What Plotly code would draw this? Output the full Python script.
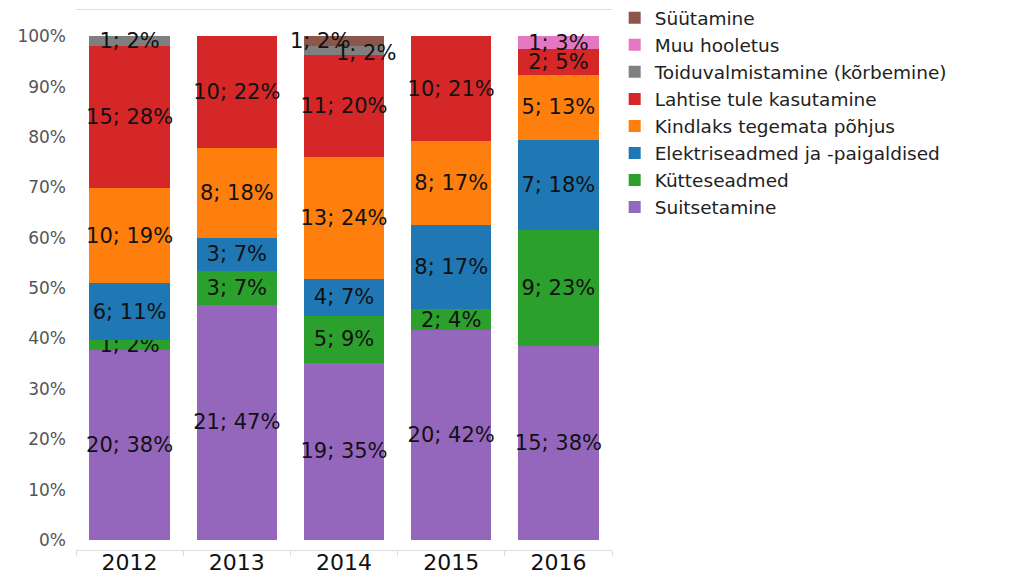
import plotly.graph_objects as go

years = ["2012", "2013", "2014", "2015", "2016"]

# counts per cause (stack order bottom -> top)
suitsetamine = [20, 21, 19, 20, 15]
kutteseadmed = [1, 3, 5, 2, 9]
elektriseadmed = [6, 3, 4, 8, 7]
kindlaks_tegemata = [10, 8, 13, 8, 5]
lahtise_tule = [15, 10, 11, 10, 2]
toiduvalmistamine = [1, 0, 1, 0, 0]
muu_hooletus = [0, 0, 0, 0, 1]
suutamine = [0, 0, 1, 0, 0]

series = [
    ("Suitsetamine", suitsetamine, "#9467bd"),
    ("Kütteseadmed", kutteseadmed, "#2ca02c"),
    ("Elektriseadmed ja -paigaldised", elektriseadmed, "#1f77b4"),
    ("Kindlaks tegemata põhjus", kindlaks_tegemata, "#ff7f0e"),
    ("Lahtise tule kasutamine", lahtise_tule, "#d62728"),
    ("Toiduvalmistamine (kõrbemine)", toiduvalmistamine, "#7f7f7f"),
    ("Muu hooletus", muu_hooletus, "#e377c2"),
    ("Süütamine", suutamine, "#8c564b"),
]

# labels that are nudged sideways in the reference (year, series name, x shift, y shift)
nudged = [
    ("2014", "Süütamine", -24, 0),
    ("2014", "Toiduvalmistamine (kõrbemine)", 22, -3),
]

FONT = "DejaVu Sans, Verdana, sans-serif"
LABEL_SIZE = 21

totals = [sum(s[1][i] for s in series) for i in range(len(years))]

fig = go.Figure()
cum = [0.0] * len(years)
annotations = []
for name, vals, color in series:
    labels = []
    for i, (v, t) in enumerate(zip(vals, totals)):
        lab = f"{v}; {round(100 * v / t)}%" if v > 0 else ""
        pct = 100.0 * v / t
        nud = [n for n in nudged if n[0] == years[i] and n[1] == name]
        if nud and v > 0:
            annotations.append(dict(
                x=i, y=cum[i] + pct / 2, xref="x", yref="y",
                text=lab, showarrow=False, xshift=nud[0][2], yshift=nud[0][3],
                font=dict(size=LABEL_SIZE, color="#111111", family=FONT),
            ))
            lab = ""
        labels.append(lab)
        cum[i] += pct
    fig.add_trace(go.Bar(
        x=years, y=vals, name=name,
        marker=dict(color=color, line=dict(width=0)),
        text=labels, textposition="inside", insidetextanchor="middle",
        textangle=0, constraintext="none",
        textfont=dict(size=LABEL_SIZE, color="#111111", family=FONT),
        hoverinfo="skip",
    ))

fig.update_layout(
    barmode="stack", barnorm="percent", bargap=0.25,
    width=1010, height=568,
    margin=dict(l=68, r=406, t=2, b=26, autoexpand=False),
    paper_bgcolor="white", plot_bgcolor="white",
    font=dict(family=FONT, color="#222222"),
    uniformtext=dict(minsize=LABEL_SIZE, mode="show"),
    annotations=annotations,
    legend=dict(
        x=1.005, y=1.02, xanchor="left", yanchor="top",
        traceorder="reversed",
        font=dict(size=18.5, color="#222222", family=FONT),
        itemwidth=30, tracegroupgap=0,
        bgcolor="rgba(0,0,0,0)",
    ),
    xaxis=dict(
        type="category",
        showline=True, mirror=True, linecolor="#dddddd", linewidth=1,
        ticks="outside", tickson="boundaries", ticklen=5, tickcolor="#dddddd",
        tickfont=dict(size=22, color="#111111", family=FONT),
        ticklabelstandoff=-7,
        showgrid=False, automargin=False,
    ),
    yaxis=dict(
        range=[-2, 105.2], tickvals=list(range(0, 101, 10)),
        ticktext=[f"{v}%" for v in range(0, 101, 10)],
        showgrid=False, zeroline=False, showline=False,
        tickfont=dict(size=17, color="#555555", family=FONT),
        ticks="", ticklabelstandoff=9, automargin=False,
    ),
)

fig.write_html("out.html")
